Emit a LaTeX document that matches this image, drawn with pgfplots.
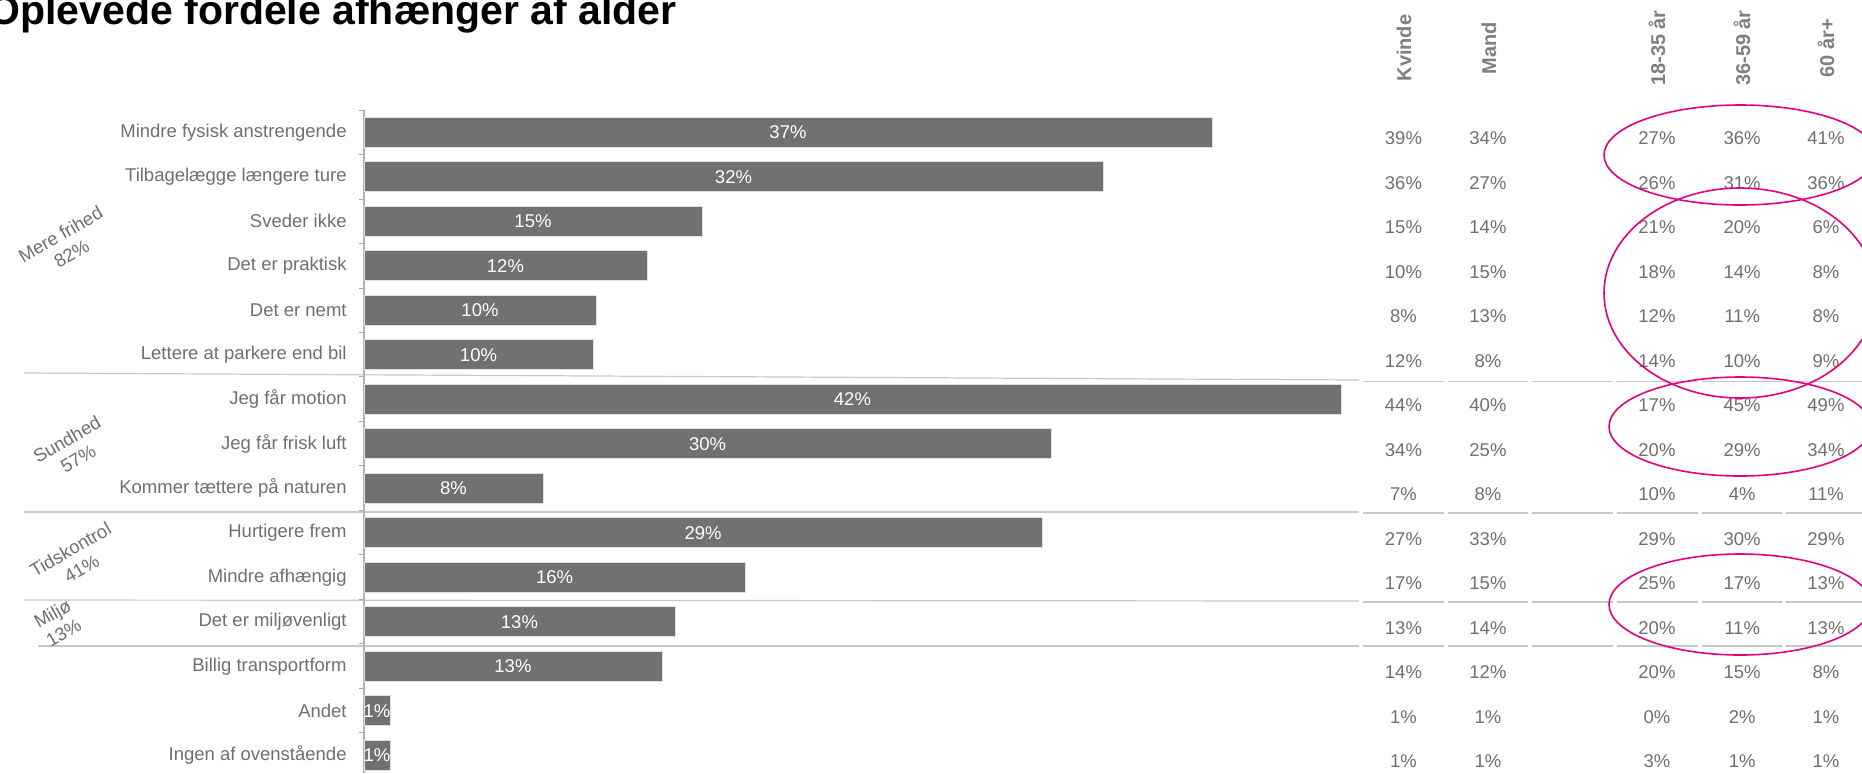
\documentclass[border=0pt]{standalone}
\usepackage{fontspec}
\setmainfont{Liberation Sans}
\usepackage{pgfplots}
\usepackage{pgfplotstable}
\pgfplotsset{compat=1.18}
\definecolor{barcol}{HTML}{717171}
\definecolor{txt}{HTML}{6F6F6F}
\definecolor{hdr}{HTML}{7F7F7F}
\definecolor{sep}{HTML}{C8C8C8}
\definecolor{mag}{HTML}{E6007E}

\pgfplotstableread{
row v lab kv ma a1 a2 a3
0 36.63 37 39 34 27 36 41
1 31.92 32 36 27 26 31 36
2 14.60 15 15 14 21 20 6
3 12.22 12 10 15 18 14 8
4 10.02 10 8 13 12 11 8
5 9.89 10 12 8 14 10 9
6 42.20 42 44 40 17 45 49
7 29.68 30 34 25 20 29 34
8 7.73 8 7 8 10 4 11
9 29.29 29 27 33 29 30 29
10 16.46 16 17 15 25 17 13
11 13.43 13 13 14 20 11 13
12 12.87 13 14 12 20 15 8
13 1.12 1 1 1 0 2 1
14 1.12 1 1 1 3 1 1
}\datatable

\newcommand\lblfont{\fontsize{9.25}{11}\selectfont}
\newcommand\tcol[2]{\addplot[draw=none, mark=none, point meta=explicit symbolic,
  nodes near coords={\pgfplotspointmeta\%},
  every node near coord/.append style={anchor=center, text=txt, font=\lblfont, inner sep=0pt, yshift=-3pt}]
  table[x expr=#1, y=row, meta=#2]{\datatable};}

\begin{document}
\begin{tikzpicture}
\useasboundingbox (0pt,0pt) rectangle (931pt,-386.5pt);

% separator lines
\begin{scope}[sep, line width=0.6pt]
\draw (12pt,-186.5pt) -- (679.5pt,-190pt);
\draw (12pt,-256pt) -- (679.5pt,-256pt);
\draw (12pt,-300pt) -- (679.5pt,-300.5pt);
\draw (19pt,-323pt) -- (679.5pt,-323pt);
\foreach \a/\b in {681.5/722, 724/764, 766/806.5, 808.5/849, 851/891, 893/931}{
  \draw (\a pt,-190.75pt) -- (\b pt,-190.75pt);
  \draw (\a pt,-256.5pt) -- (\b pt,-256.5pt);
  \draw (\a pt,-301pt) -- (\b pt,-301pt);
  \draw (\a pt,-323pt) -- (\b pt,-323pt);
}
\end{scope}

\begin{axis}[
  at={(182pt,-55pt)}, anchor=north west,
  scale only axis, width=748.9pt, height=331.5pt,
  xmin=0, xmax=64.7, ymin=-0.5, ymax=14.4, y dir=reverse,
  axis x line=none, axis y line=left,
  y axis line style={-, draw=sep!90!black, line width=0.7pt},
  ytick={0,...,14},
  yticklabels={Mindre fysisk anstrengende, Tilbagelægge længere ture, Sveder ikke\ , Det er praktisk, Det er nemt, Lettere at parkere end bil, Jeg får motion, Jeg får frisk luft, Kommer tættere på naturen, Hurtigere frem, Mindre afhængig, Det er miljøvenligt, Billig transportform, Andet, Ingen af ovenstående},
  major tick length=0pt,
  minor ytick={-0.5,0.5,...,13.5}, minor tick length=2.5pt, tick align=outside,
  minor tick style={draw=gray!70, line width=0.5pt},
  yticklabel style={anchor=east, inner sep=0pt, xshift=-8.5pt, font=\lblfont, text=txt},
  clip=false,
]
\addplot[xbar, bar shift=0pt, bar width=15pt, fill=barcol, draw=black!12, line width=0.4pt]
  table[x=v, y=row]{\datatable};
\addplot[draw=none, mark=none, point meta=explicit symbolic,
  nodes near coords={\pgfplotspointmeta\%},
  every node near coord/.append style={anchor=center, text=white, font=\lblfont, inner sep=0pt}]
  table[x expr=\thisrow{v}/2, y=row, meta=lab]{\datatable};
\tcol{44.90}{kv}
\tcol{48.55}{ma}
\tcol{55.85}{a1}
\tcol{59.53}{a2}
\tcol{63.15}{a3}
\end{axis}

% headers
\begin{scope}[every node/.style={rotate=90, anchor=center, text=hdr, font=\fontsize{10}{12}\selectfont\bfseries, inner sep=0pt}]
\node at (702pt,-24pt) {Kvinde};
\node at (744.5pt,-24pt) {Mand};
\node at (828.5pt,-24pt) {18-35 år};
\node at (871pt,-24pt) {36-59 år};
\node at (913pt,-24pt) {60 år+};
\end{scope}

% group labels
\begin{scope}[every node/.style={rotate=30, align=center, text=txt, font=\fontsize{9.25}{11}\selectfont, inner sep=0pt}]
\node at (33pt,-122pt) {Mere frihed\\82\%};
\node at (36.25pt,-224.5pt) {Sundhed\\57\%};
\node at (38pt,-279.5pt) {Tidskontrol\\41\%};
\node at (29pt,-311.5pt) {Miljø\\13\%};
\end{scope}

% highlight ellipses
\begin{scope}[mag, line width=0.8pt]
\draw (870pt,-77.5pt) ellipse [x radius=68pt, y radius=25pt];
\draw (870pt,-146.5pt) ellipse [x radius=68pt, y radius=52.5pt];
\draw (870pt,-213.25pt) ellipse [x radius=65.5pt, y radius=24.75pt];
\draw (870pt,-302.25pt) ellipse [x radius=65.5pt, y radius=25.25pt];
\end{scope}

% title
\node[anchor=base east, inner sep=0pt, font=\fontsize{20.5}{24}\selectfont\bfseries] at (338.5pt,-12pt) {Oplevede fordele afhænger af alder};
\end{tikzpicture}
\end{document}
